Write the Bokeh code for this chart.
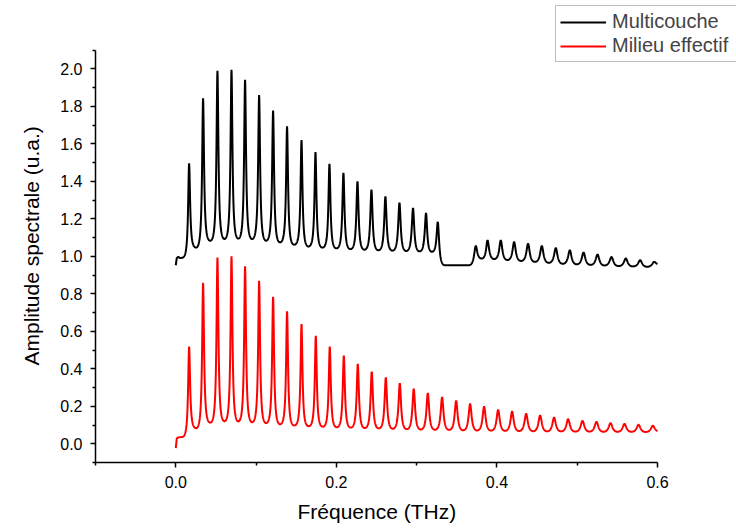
import numpy as np
from bokeh.plotting import figure
from bokeh.models import Legend, LegendItem, FixedTicker, Title, NumeralTickFormatter
from bokeh.embed import file_html
from bokeh.resources import INLINE

# ---------------- data ----------------
x_ticks = [0.0, 0.2, 0.4, 0.6]
x_tick_labels = ["0.0", "0.2", "0.4", "0.6"]
x_minor_ticks = [-0.1, 0.1, 0.3, 0.5]
y_ticks = [0.0, 0.2, 0.4, 0.6, 0.8, 1.0, 1.2, 1.4, 1.6, 1.8, 2.0]
y_tick_labels = ["0.0", "0.2", "0.4", "0.6", "0.8", "1.0", "1.2", "1.4", "1.6", "1.8", "2.0"]
y_minor_ticks = [-0.1, 0.1, 0.3, 0.5, 0.7, 0.9, 1.1, 1.3, 1.5, 1.7, 1.9, 2.1]

# "Multicouche" (black)
multi_lead_f = [0.0, 0.0012, 0.003, 0.0055, 0.0079]
multi_lead_a = [0.952, 0.990, 0.997, 0.990, 0.992]
multi_peak_f = [0.0166, 0.0340, 0.0519, 0.0694, 0.0863, 0.1038, 0.1212, 0.1386, 0.1566,
                0.1740, 0.1914, 0.2088, 0.2263, 0.2437, 0.2611, 0.2786, 0.2955, 0.3117,
                0.3263, 0.3737, 0.3883, 0.4048, 0.4214, 0.4388, 0.4559, 0.4733, 0.4908,
                0.5079, 0.5253, 0.5427, 0.5605, 0.5784, 0.5958]
multi_peak_a = [1.496, 1.842, 1.989, 1.995, 1.941, 1.860, 1.777, 1.693, 1.620,
                1.555, 1.493, 1.445, 1.399, 1.355, 1.319, 1.286, 1.257, 1.230,
                1.183, 1.055, 1.085, 1.085, 1.076, 1.067, 1.055, 1.044, 1.032,
                1.020, 1.009, 0.996, 0.988, 0.979, 0.970]
multi_valley_a = [1.046, 1.083, 1.092, 1.094, 1.092, 1.083, 1.074, 1.062, 1.052, 1.046,
                  1.042, 1.038, 1.035, 1.032, 1.030, 1.028, 1.026, 1.024, 0.952, 0.988,
                  0.985, 0.980, 0.975, 0.970, 0.965, 0.960, 0.957, 0.954, 0.951, 0.948,
                  0.946, 0.944]
multi_end_a = 0.955

# "Milieu effectif" (red)
eff_lead_f = [0.0, 0.0012, 0.003, 0.0079]
eff_lead_a = [-0.023, 0.028, 0.034, 0.036]
eff_peak_f = [0.0166, 0.0340, 0.0519, 0.0694, 0.0863, 0.1038, 0.1212, 0.1386, 0.1566,
              0.1744, 0.1918, 0.2093, 0.2267, 0.2441, 0.2616, 0.2790, 0.2964, 0.3139,
              0.3317, 0.3492, 0.3666, 0.3840, 0.4015, 0.4189, 0.4364, 0.4538, 0.4712,
              0.4887, 0.5066, 0.5240, 0.5415, 0.5589, 0.5764, 0.5942]
eff_peak_a = [0.518, 0.858, 0.993, 1.000, 0.947, 0.869, 0.784, 0.707, 0.638,
              0.576, 0.518, 0.470, 0.426, 0.385, 0.353, 0.323, 0.293, 0.270,
              0.248, 0.230, 0.213, 0.199, 0.181, 0.172, 0.160, 0.151, 0.140,
              0.131, 0.122, 0.117, 0.110, 0.106, 0.101, 0.096]
eff_valley_a = [0.083, 0.113, 0.120, 0.119, 0.115, 0.110, 0.104, 0.098, 0.094, 0.091,
                0.088, 0.086, 0.084, 0.082, 0.080, 0.078, 0.076, 0.075, 0.074, 0.072,
                0.071, 0.070, 0.069, 0.068, 0.067, 0.066, 0.066, 0.065, 0.065, 0.064,
                0.064, 0.064, 0.063]
eff_end_a = 0.065

series_names = ["Multicouche", "Milieu effectif"]
series_colors = ["#000000", "#ff0000"]

# ---------------- line drawing between the read peaks / valleys ----------------
HALF = 0.0087
X_END = 0.6


def airy(u, F):
    a = 1.0 / (1.0 + F * np.sin(u * np.pi / 2) ** 2)
    amin = 1.0 / (1.0 + F)
    return (a - amin) / (1.0 - amin)


def build(lead_f, lead_a, peak_f, peak_a, valley_a, end_a):
    xs = list(lead_f)
    ys = list(lead_a)
    n = len(peak_f)
    for k in range(n):
        f0, p = peak_f[k], peak_a[k]
        vl = lead_a[-1] if k == 0 else valley_a[k - 1]
        vr = valley_a[k] if k < n - 1 else end_a
        wl = (f0 - lead_f[-1]) if k == 0 else min(HALF, (f0 - peak_f[k - 1]) / 2)
        wr = min(HALF, (peak_f[k + 1] - f0) / 2) if k < n - 1 else HALF
        c = p - 0.5 * (vl + vr)
        F = 2.0 + 13.0 * min(1.0, c / 0.5)
        ul = np.linspace(1.0, 0.0, 36)
        for u in (ul[1:] if k == 0 else ul):
            xs.append(f0 - u * wl)
            ys.append(vl + (p - vl) * airy(u, F))
        for u in np.linspace(0.0, 1.0, 36)[1:]:
            x = f0 + u * wr
            if x > X_END:
                xs.append(X_END)
                ys.append(vr + (p - vr) * airy((X_END - f0) / wr, F))
                break
            xs.append(x)
            ys.append(vr + (p - vr) * airy(u, F))
    return xs, ys


mx, my = build(multi_lead_f, multi_lead_a, multi_peak_f, multi_peak_a, multi_valley_a, multi_end_a)
ex, ey = build(eff_lead_f, eff_lead_a, eff_peak_f, eff_peak_a, eff_valley_a, eff_end_a)

# ---------------- figure ----------------
W, H = 736, 532
p = figure(width=W, height=H, x_range=(-0.1, 0.6984), y_range=(-0.1, 2.364),
           output_backend="svg", toolbar_location=None,
           min_border_left=95, min_border_right=0, min_border_top=0, min_border_bottom=H - 462)
p.outline_line_color = None
p.grid.visible = False
p.background_fill_color = "white"
p.border_fill_color = "white"

FONT = "Liberation Sans"
for ax in (p.xaxis[0], p.yaxis[0]):
    ax.axis_line_color = "black"
    ax.axis_line_width = 1.5
    ax.major_tick_line_color = "black"
    ax.major_tick_line_width = 1.5
    ax.minor_tick_line_color = "black"
    ax.minor_tick_line_width = 1.5
    ax.major_tick_in = 0
    ax.major_tick_out = 5
    ax.minor_tick_in = 0
    ax.minor_tick_out = 3
    ax.major_label_text_font = FONT
    ax.major_label_text_font_size = "16px"
    ax.major_label_text_color = "black"
    ax.formatter = NumeralTickFormatter(format="0.0")

p.xaxis.bounds = (-0.1, 0.6)
p.yaxis.bounds = (-0.1, 2.1)
p.xaxis.ticker = FixedTicker(ticks=x_ticks, minor_ticks=x_minor_ticks)
p.yaxis.ticker = FixedTicker(ticks=y_ticks, minor_ticks=y_minor_ticks)
p.xaxis.major_label_overrides = dict(zip(x_ticks, x_tick_labels))
p.yaxis.major_label_overrides = dict(zip(y_ticks, y_tick_labels))
p.xaxis.major_label_standoff = 8
p.yaxis.major_label_standoff = 8

r1 = p.line(mx, my, line_color=series_colors[0], line_width=2)
r2 = p.line(ex, ey, line_color=series_colors[1], line_width=2)

p.add_layout(Title(text="Fréquence (THz)", align="left", offset=202, standoff=14,
                   text_font=FONT, text_font_size="21px", text_font_style="normal",
                   text_color="black"), "below")
p.add_layout(Title(text="Amplitude spectrale (u.a.)", align="left", offset=97, standoff=30,
                   text_font=FONT, text_font_size="21px", text_font_style="normal",
                   text_color="black"), "left")

legend = Legend(items=[LegendItem(label=series_names[0], renderers=[r1]),
                       LegendItem(label=series_names[1], renderers=[r2])],
                location=(460, 400), padding=4, spacing=1, margin=0,
                glyph_width=46, glyph_height=22, label_height=22, label_width=130,
                label_standoff=6,
                label_text_font=FONT, label_text_font_size="20px",
                border_line_color="#808080", border_line_width=1,
                background_fill_color="white", background_fill_alpha=1.0)
p.add_layout(legend)

open("out.html", "w").write(file_html(p, INLINE))
